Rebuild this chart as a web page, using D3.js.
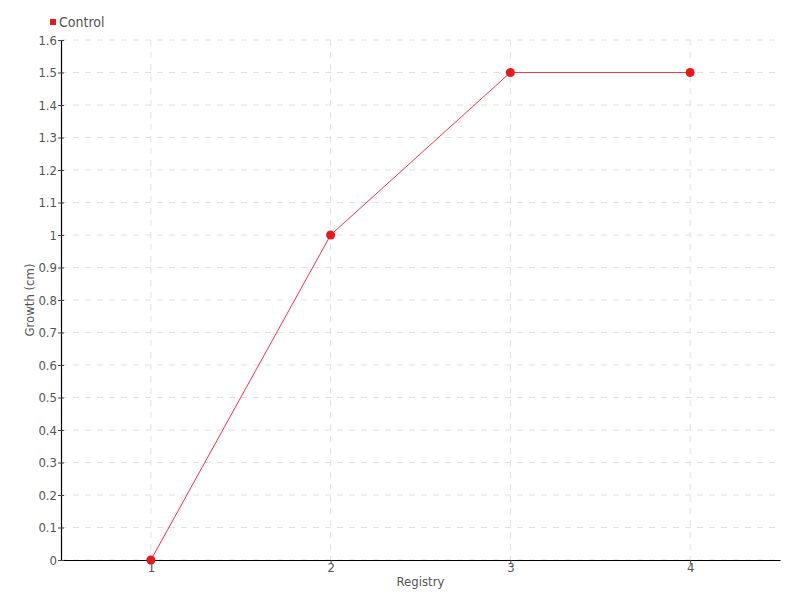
<!DOCTYPE html>
<html>
<head>
<meta charset="utf-8">
<script src="https://cdn.jsdelivr.net/npm/d3@7"></script>
<style>
body{margin:0;background:#fff;}
svg{display:block;}
text{font-family:"Liberation Sans Narrow","DejaVu Sans Condensed",sans-serif;}
</style>
</head>
<body>
<svg id="chart" width="800" height="600"></svg>
<script>
const categories = [1, 2, 3, 4];
const seriesName = "Control";
const controlValues = [0, 1.0, 1.5, 1.5];
const yTickValues = [0,0.1,0.2,0.3,0.4,0.5,0.6,0.7,0.8,0.9,1,1.1,1.2,1.3,1.4,1.5,1.6];
const xLabel = "Registry";
const yLabel = "Growth (cm)";

const svg = d3.select("#chart");
const m = {left:61, right:20, top:40, bottom:40};
const W = 800, H = 600;
const x = d3.scaleLinear().domain([0.5, 4.5]).range([m.left, W - m.right]);
const y = d3.scaleLinear().domain([0, 1.6]).range([H - m.bottom, m.top]);
const color = "#e41a1c";

// grid
const g = svg.append("g");
g.selectAll(".hg").data(yTickValues).enter().append("line")
  .attr("x1", m.left).attr("x2", W - m.right)
  .attr("y1", d => y(d)).attr("y2", d => y(d))
  .attr("stroke", "#e0e0e0").attr("stroke-dasharray", "6,6");
g.selectAll(".vg").data(categories).enter().append("line")
  .attr("x1", d => x(d)).attr("x2", d => x(d))
  .attr("y1", y(1.6)).attr("y2", y(0))
  .attr("stroke", "#e0e0e0").attr("stroke-dasharray", "6,6");

// axes
const xAxis = svg.append("g").attr("transform", `translate(0,${y(0)})`)
  .call(d3.axisBottom(x).tickValues(categories).tickFormat(d3.format("d")).tickSize(4).tickSizeOuter(0));
const yAxis = svg.append("g").attr("transform", `translate(${m.left},0)`)
  .call(d3.axisLeft(y).tickValues(yTickValues).tickFormat(d => String(+d.toFixed(1))).tickSize(3).tickSizeOuter(0));
[xAxis, yAxis].forEach(a => {
  a.select(".domain").attr("stroke", "#000").attr("stroke-width", 1.2);
  a.selectAll(".tick line").attr("stroke", "#444");
  a.selectAll(".tick text").attr("fill", "#555").style("font-size", "13px");
});
yAxis.selectAll(".tick line").attr("x2", 3).attr("x1", -3);
yAxis.selectAll(".tick text").attr("x", -4);
xAxis.selectAll(".tick text").attr("y", 3);

// axis titles
svg.append("text").attr("x", (m.left + W - m.right) / 2).attr("y", 586)
  .attr("text-anchor", "middle").attr("fill", "#555").style("font-size", "13px").text(xLabel);
svg.append("text").attr("transform", `translate(34,${(y(0)+y(1.6))/2}) rotate(-90)`)
  .attr("text-anchor", "middle").attr("fill", "#555").style("font-size", "13px").text(yLabel);

// line
const pts = categories.map((c, i) => [c, controlValues[i]]);
svg.append("path").datum(pts)
  .attr("d", d3.line().x(d => x(d[0])).y(d => y(d[1])))
  .attr("fill", "none").attr("stroke", "#ff3344").attr("stroke-width", 1);
svg.selectAll(".pt").data(pts).enter().append("circle")
  .attr("cx", d => x(d[0])).attr("cy", d => y(d[1])).attr("r", 4.5)
  .attr("fill", color);

// legend
svg.append("rect").attr("x", 50).attr("y", 19).attr("width", 6).attr("height", 6).attr("fill", color);
svg.append("text").attr("x", 59).attr("y", 27).attr("fill", "#555").style("font-size", "14px").text(seriesName);
</script>
</body>
</html>
